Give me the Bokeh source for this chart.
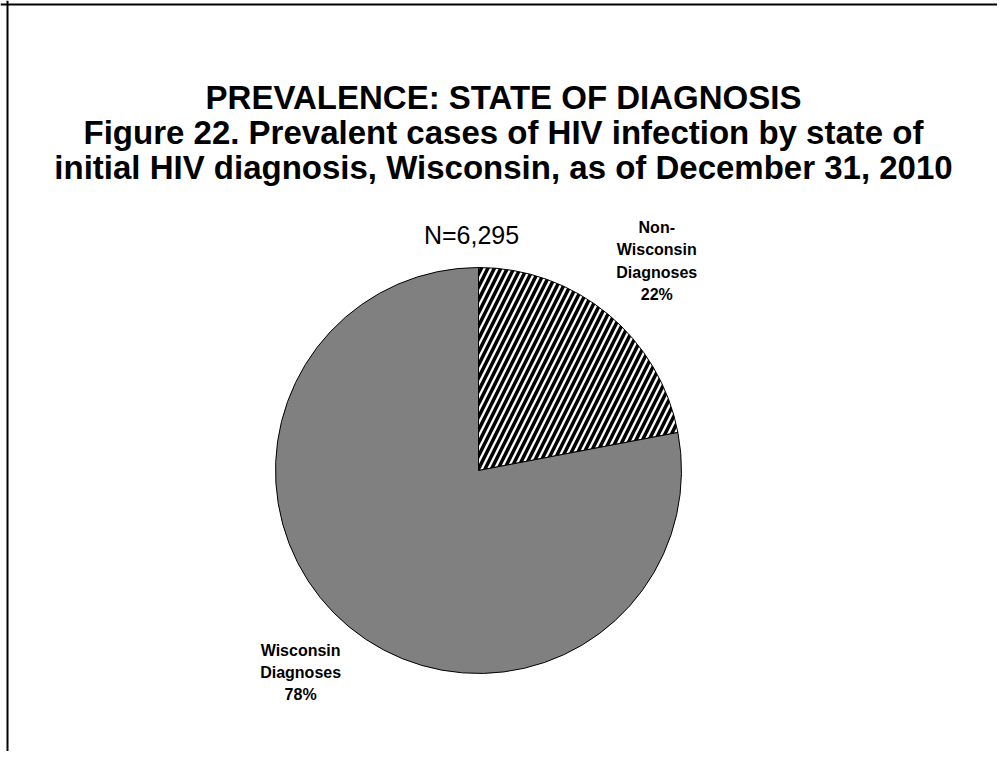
import numpy as np
from bokeh.plotting import figure
from bokeh.models import Range1d, ColumnDataSource, Span
from bokeh.core.properties import value
from bokeh.embed import file_html
from bokeh.resources import INLINE

# ---- data ----
title_lines = [
    "PREVALENCE: STATE OF DIAGNOSIS",
    "Figure 22. Prevalent cases of HIV infection by state of",
    "initial HIV diagnosis, Wisconsin, as of December 31, 2010",
]
categories = ["Non-\nWisconsin\nDiagnoses", "Wisconsin\nDiagnoses"]
percents = [22, 78]
n_label = "N=6,295"

# ---- layout (pixel-like data space) ----
W, H = 997, 751
cx, cy, r = 478, 281, 203
label_radius = [1.355, 1.325]
label_angle_shift = [-0.8, -1.8]

p = figure(width=W, height=H, x_range=Range1d(0, W), y_range=Range1d(0, H),
           output_backend="svg", toolbar_location=None, min_border=0,
           outline_line_color=None, background_fill_color="white")
p.axis.visible = False
p.grid.visible = False

frac = np.array(percents, dtype=float) / sum(percents)
cum = np.concatenate([[0], np.cumsum(frac)])
start_deg = 90 - cum[1:] * 360
end_deg = 90 - cum[:-1] * 360
mid = np.deg2rad((start_deg + end_deg) / 2 + np.array(label_angle_shift))

src = ColumnDataSource(dict(
    x=[cx] * len(percents), y=[cy] * len(percents),
    start=np.deg2rad(start_deg), end=np.deg2rad(end_deg),
    fill=["white", "#808080"],
    hatch=["/", " "],
))
p.wedge(x="x", y="y", radius=r, start_angle="start", end_angle="end",
        fill_color="fill", line_color="black", line_width=1,
        hatch_pattern="hatch", hatch_color="black", hatch_scale=13,
        hatch_weight=3.5, source=src)

lab_r = r * np.array(label_radius)
labels = [f"{c}\n{v}%" for c, v in zip(categories, percents)]
p.text(x=cx + lab_r * np.cos(mid), y=cy + lab_r * np.sin(mid), text=labels,
       text_font=value("Liberation Sans"), text_font_style="bold",
       text_font_size="16px", text_align="center", text_baseline="middle",
       text_line_height=1.3, text_color="black")

p.text(x=[cx - 7], y=[cy + 236], text=[n_label], text_font=value("Liberation Sans"),
       text_font_size="25px", text_align="center", text_baseline="middle",
       text_color="black")

title_y = [654, 619, 584]
p.text(x=[503] * 3, y=title_y, text=title_lines,
       text_font=value("Liberation Sans"), text_font_style="bold",
       text_font_size="33px", text_align="center", text_baseline="alphabetic",
       text_color="black")

# chart frame (top and left edges visible)
p.add_layout(Span(location=7, dimension="height", line_color="black", line_width=2))
p.add_layout(Span(location=H - 4, dimension="width", line_color="black", line_width=2))

open("out.html", "w").write(file_html(p, INLINE))
